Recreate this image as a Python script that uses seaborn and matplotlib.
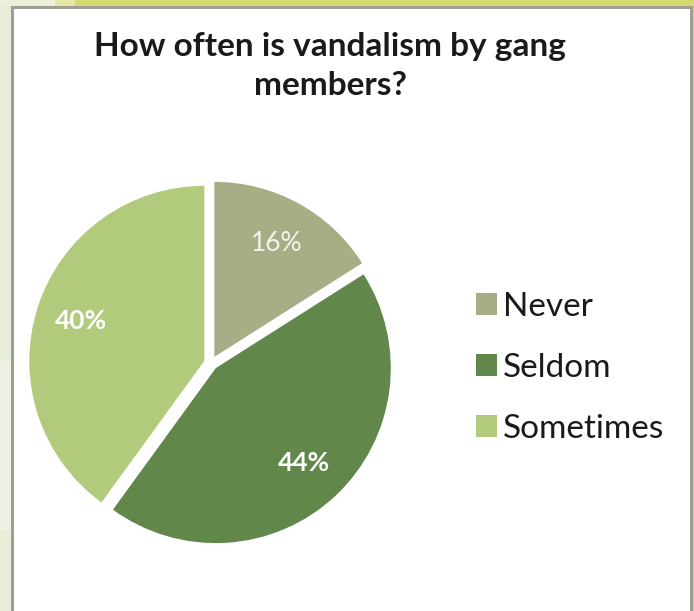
import matplotlib
matplotlib.use("Agg")
import matplotlib.pyplot as plt
from matplotlib.patches import Rectangle
import seaborn as sns

# Survey answers and their shares (percent)
categories = ["Never", "Seldom", "Sometimes"]
shares = [16, 44, 40]
title_lines = ["How often is vandalism by gang", "members?"]
slice_colors = ["#a7ae85", "#62874a", "#b2ca7c"]

sns.set_theme(style="white")
plt.rcParams["font.family"] = ["Lato", "DejaVu Sans"]

W, H = 694, 611
fig = plt.figure(figsize=(W / 100, H / 100), dpi=100)
fig.patch.set_facecolor("#e6eed8")

def px_rect(x0, y0, x1, y1, **kw):
    # rectangle given in pixel coordinates measured from the top-left corner
    fig.patches.append(Rectangle((x0 / W, 1 - y1 / H), (x1 - x0) / W, (y1 - y0) / H,
                                 transform=fig.transFigure, figure=fig, **kw))

# slide backdrop: lighter band on the left, yellow-green strip along the top
px_rect(0, 360, 11, 530, color="#eff1e5", lw=0)
px_rect(0, 0, 55, 6, color="#eef0dc", lw=0)
px_rect(55, 0, 75, 6, color="#e6e8a8", lw=0)
px_rect(75, 0, 694, 6, color="#d5da70", lw=0)
px_rect(690, 0, 694, 611, color="#d5da70", lw=0)
# white chart panel with grey border
px_rect(12, 7, 691, 640, facecolor="white", edgecolor="#a09d92", lw=2.2)

# pie axes: square in pixels, centred on the pie
cx, cy, R = 211, 363, 175
lim = 1.1
side = 2 * lim * R
ax = fig.add_axes([(cx - side / 2) / W, (H - cy - side / 2) / H, side / W, side / H])
ax.set_zorder(3)
ax.set_facecolor("none")

palette = sns.color_palette(slice_colors)
wedges, texts, autotexts = ax.pie(
    shares,
    colors=palette,
    startangle=90,
    counterclock=False,
    explode=[0.04] * len(shares),
    autopct="%.0f%%",
    pctdistance=0.74,
    wedgeprops=dict(linewidth=0),
    textprops=dict(color="white", fontsize=19),
)
autotexts[0].set_color("#f2f2ea")
autotexts[1].set_fontweight("bold")
autotexts[2].set_fontweight("bold")
ax.set_xlim(-lim, lim)
ax.set_ylim(-lim, lim)
ax.set_aspect("auto")
ax.axis("off")

title = fig.text(330 / W, 1 - 66 / H, "\n".join(title_lines), ha="center", va="center",
                 fontsize=24, fontweight="bold", color="#1a1a1a", linespacing=1.45)
title.set_zorder(4)

leg = fig.legend(wedges, categories, loc="center left",
                 bbox_to_anchor=(446 / W, 1 - 368 / H), frameon=False,
                 fontsize=24, labelcolor="#1a1a1a", handlelength=0.62,
                 handleheight=0.62, handletextpad=0.2, labelspacing=0.93)
leg.set_zorder(4)

fig.savefig("out.png", dpi=100)
